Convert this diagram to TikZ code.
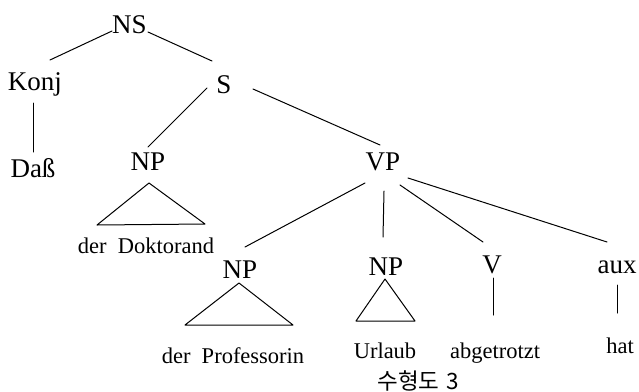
\documentclass[tikz,border=0pt]{standalone}
\usepackage{fontspec}
\setmainfont{Liberation Serif}
\newfontfamily\hangul{Noto Sans CJK KR}
\begin{document}
\begin{tikzpicture}[x=1pt,y=-1pt,
  cat/.style={font=\fontsize{27}{30}\selectfont, inner sep=0pt, anchor=base},
  leaf/.style={font=\fontsize{22.5}{26}\selectfont, inner sep=0pt, anchor=base},
  edge/.style={line width=1pt, line cap=round},
  roof/.style={line width=1pt, line join=round}]
\useasboundingbox (0,0) rectangle (639,391);

% categories
\node[cat] (NS)   at (129.5,33) {NS};
\node[cat] (Konj) at (35,90)    {Konj};
\node[cat] (S)    at (224,93)   {S};
\node[cat] (Dass) at (33,177)   {Daß};
\node[cat] (NPa)  at (148,170)  {NP};
\node[cat] (VP)   at (383,170)  {VP};
\node[cat] (NPb)  at (240,278)  {NP};
\node[cat] (NPc)  at (386,275)  {NP};
\node[cat] (V)    at (492,273)  {V};
\node[cat] (aux)  at (617,273)  {aux};

% words
\node[leaf] (dok)  at (146,253) {der\ \ Doktorand};
\node[leaf] (prof) at (233,363) {der\ \ Professorin};
\node[leaf] (url)  at (385,358) {Urlaub};
\node[leaf] (abg)  at (495,358) {abgetrotzt};
\node[leaf] (hat)  at (620,353) {hat};

% caption
\node[inner sep=0pt, anchor=base, font=\hangul\fontsize{22.5}{26}\selectfont] (cap) at (418,389) {수형도\hspace{0.3em}3};

% branches
\draw[edge] ([shift={(-17.5,-2)}]NS.base) -- ([shift={(15,-30)}]Konj.base);
\draw[edge] ([shift={(18.5,-1)}]NS.base) -- ([shift={(-12,-32)}]S.base);
\draw[edge] ([shift={(-2,13)}]Konj.base) -- ([shift={(0,-25)}]Dass.base);
\draw[edge] ([shift={(-17,-5)}]S.base) -- ([shift={(0,-23)}]NPa.base);
\draw[edge] ([shift={(29,-4)}]S.base) -- ([shift={(-3,-25)}]VP.base);
\draw[edge] ([shift={(-18,13)}]VP.base) -- ([shift={(5,-31)}]NPb.base);
\draw[edge] ([shift={(1,21)}]VP.base) -- ([shift={(-3,-38)}]NPc.base);
\draw[edge] ([shift={(17,15)}]VP.base) -- ([shift={(-9,-31)}]V.base);
\draw[edge] ([shift={(25,8)}]VP.base) -- ([shift={(-10,-31)}]aux.base);
\draw[edge] ([shift={(1,5)}]V.base) -- ([shift={(-2,-43)}]abg.base);
\draw[edge] ([shift={(0,12)}]aux.base) -- ([shift={(-3,-40)}]hat.base);

% roofs
\draw[roof] ([shift={(1,13)}]NPa.base) -- ([shift={(-51,55)}]NPa.base) -- ([shift={(57,54)}]NPa.base) -- cycle;
\draw[roof] ([shift={(-1,5)}]NPb.base) -- ([shift={(-55,47)}]NPb.base) -- ([shift={(53,47)}]NPb.base) -- cycle;
\draw[roof] ([shift={(-1,4)}]NPc.base) -- ([shift={(-30,46)}]NPc.base) -- ([shift={(29,46)}]NPc.base) -- cycle;
\end{tikzpicture}
\end{document}
